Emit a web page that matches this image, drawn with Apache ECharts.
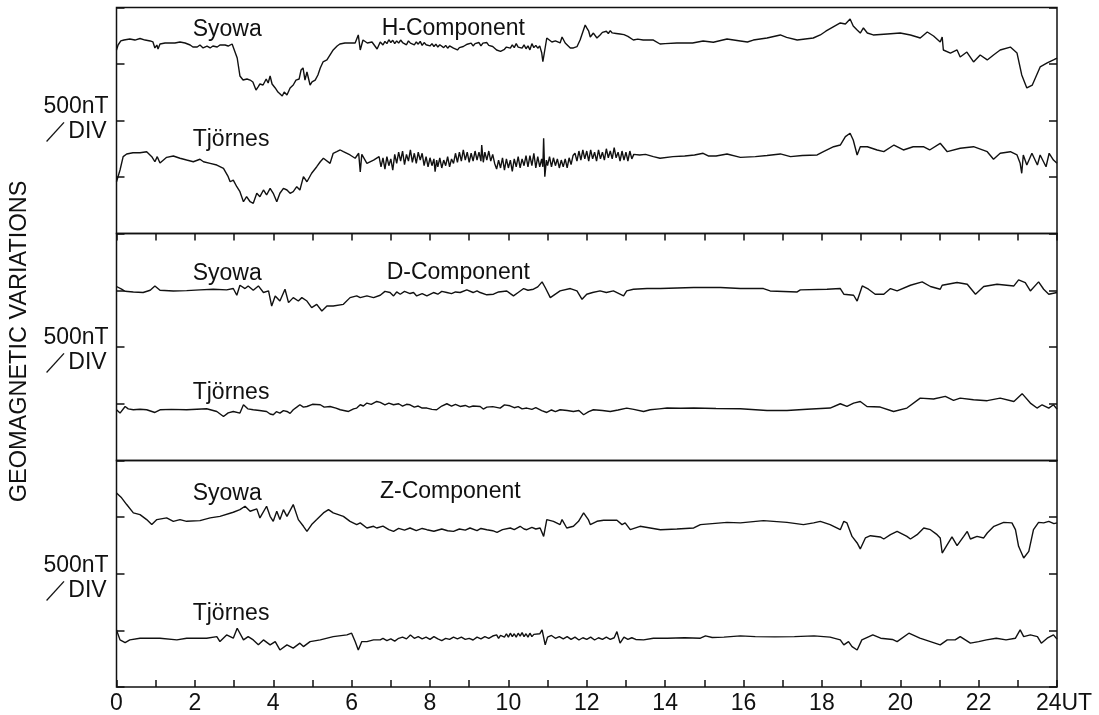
<!DOCTYPE html>
<html>
<head>
<meta charset="utf-8">
<script src="https://cdn.jsdelivr.net/npm/echarts@6/dist/echarts.min.js"></script>
<style>
  html, body { margin: 0; padding: 0; background: #fff; }
  #chart { width: 1099px; height: 715px; }
</style>
</head>
<body>
<div id="chart"></div>
<script>
// 地磁気変動 (nT), [UT hour, value]
const hSyowa = [[0,1624],[0.04,1668],[0.11,1704],[0.19,1712],[0.34,1721],[0.47,1712],[0.6,1726],[0.73,1712],[0.86,1704],[0.93,1695],[0.98,1642],[1.03,1668],[1.06,1633],[1.11,1677],[1.24,1686],[1.49,1686],[1.62,1695],[1.75,1686],[1.88,1668],[1.95,1650],[2.06,1650],[2.13,1668],[2.21,1642],[2.31,1659],[2.39,1642],[2.46,1659],[2.57,1650],[2.64,1668],[2.77,1668],[2.85,1659],[2.95,1677],[3.0,1668],[3.08,1553],[3.15,1394],[3.23,1358],[3.33,1367],[3.41,1358],[3.48,1341],[3.56,1270],[3.61,1296],[3.66,1323],[3.74,1314],[3.82,1367],[3.87,1332],[3.92,1394],[3.97,1323],[4.05,1288],[4.12,1252],[4.17,1235],[4.23,1217],[4.28,1252],[4.35,1226],[4.43,1288],[4.51,1314],[4.58,1358],[4.66,1367],[4.71,1447],[4.76,1465],[4.81,1358],[4.86,1429],[4.94,1314],[4.99,1341],[5.07,1358],[5.14,1403],[5.2,1465],[5.27,1518],[5.37,1536],[5.45,1580],[5.53,1624],[5.63,1659],[5.7,1677],[5.83,1686],[5.96,1686],[6.09,1686],[6.17,1757],[6.22,1624],[6.29,1712],[6.4,1686],[6.52,1695],[6.65,1633],[6.73,1695],
  [6.8,1668],[6.85,1700],[6.9,1680],[6.95,1715],[7.0,1690],[7.05,1710],[7.1,1680],[7.15,1705],[7.2,1685],[7.25,1712],[7.3,1690],[7.35,1700],[7.4,1670],[7.45,1705],[7.5,1685],[7.55,1700],[7.6,1670],[7.65,1695],[7.7,1675],[7.75,1700],[7.8,1665],[7.85,1690],[7.9,1670],[7.95,1685],[8.0,1660],[8.05,1680],[8.1,1655],[8.15,1675],[8.2,1650],[8.25,1670],[8.3,1660],[8.35,1645],[8.4,1665],[8.45,1640],[8.5,1660],[8.55,1645],[8.6,1640],[8.7,1624],[8.75,1645],[8.8,1635],[8.85,1655],[8.9,1645],[8.95,1675],[9.0,1660],[9.05,1685],[9.1,1660],[9.15,1680],[9.2,1665],[9.25,1690],[9.3,1660],[9.35,1685],[9.4,1670],[9.45,1690],[9.5,1665],[9.55,1675],[9.6,1655],[9.7,1624],[9.8,1612],[9.9,1630],[9.95,1650],[10.0,1665],[10.05,1640],[10.1,1670],[10.15,1645],[10.2,1680],[10.25,1650],[10.3,1665],[10.35,1640],[10.4,1670],[10.45,1635],[10.5,1660],[10.55,1625],[10.6,1680],[10.65,1645],[10.7,1665],[10.75,1640],[10.8,1660],[10.85,1600],[10.88,1520],[10.98,1730],[11.11,1695],[11.2,1704],[11.32,1686],[11.37,1739],[11.45,1686],[11.58,1642],[11.66,1642],[11.75,1653],[11.83,1712],[11.96,1845],[12.0,1819],[12.05,1790],[12.09,1739],[12.17,1774],[12.26,1730],[12.34,1757],[12.4,1780],[12.45,1765],[12.5,1790],[12.55,1770],[12.6,1795],[12.65,1775],[12.7,1790],[12.75,1770],[12.8,1785],[12.85,1765],[12.9,1780],[12.95,1760],[13.0,1770],[13.05,1745],[13.1,1739],[13.19,1712],[13.3,1720],[13.44,1712],[13.7,1712],[13.87,1677],[14.0,1680],[14.3,1686],[14.7,1686],[14.97,1704],[15.23,1692],[15.58,1721],[15.92,1704],[16.1,1695],[16.25,1712],[16.6,1730],[16.94,1757],[17.1,1736],[17.37,1712],[17.78,1730],[17.96,1757],[18.1,1790],[18.29,1828],[18.47,1863],[18.6,1854],[18.72,1898],[18.8,1836],[18.9,1800],[18.98,1774],[19.06,1819],[19.16,1774],[19.31,1757],[19.67,1766],[20.0,1774],[20.26,1757],[20.43,1739],[20.51,1730],[20.69,1783],[20.85,1748],[21.02,1695],[21.07,1739],[21.1,1624],[21.28,1597],[21.45,1624],[21.53,1562],[21.7,1606],[21.87,1518],[22.04,1580],[22.22,1536],[22.38,1580],[22.55,1624],[22.81,1650],[22.98,1597],[23.1,1403],[23.23,1288],[23.37,1314],[23.57,1474],[23.75,1509],[23.91,1536],[24,1553]];

const hTjornes = [[0,458],[0.09,562],[0.17,680],[0.26,704],[0.42,715],[0.6,715],[0.77,724],[0.9,680],[0.98,635],[1.04,680],[1.11,624],[1.28,674],[1.45,686],[1.62,666],[1.79,650],[1.96,635],[2.13,657],[2.22,635],[2.39,621],[2.56,606],[2.73,577],[2.85,503],[2.9,458],[2.98,473],[3.07,414],[3.15,370],[3.24,281],[3.32,326],[3.41,281],[3.49,267],[3.58,356],[3.66,326],[3.75,385],[3.83,341],[3.92,400],[4.0,356],[4.09,281],[4.17,356],[4.26,400],[4.35,385],[4.43,356],[4.51,370],[4.6,414],[4.68,385],[4.77,503],[4.86,458],[4.98,533],[5.11,591],[5.2,635],[5.28,666],[5.45,621],[5.53,710],[5.62,724],[5.71,739],[5.79,724],[5.96,695],[6.09,666],[6.18,710],[6.22,544],[6.26,700],[6.39,621],[6.56,650],[6.7,680],
  [6.75,590],[6.8,670],[6.85,570],[6.9,680],[6.95,600],[7.0,660],[7.05,560],[7.1,700],[7.15,620],[7.2,720],[7.25,640],[7.3,730],[7.35,610],[7.4,700],[7.45,640],[7.5,740],[7.55,630],[7.6,710],[7.65,620],[7.7,720],[7.75,650],[7.8,710],[7.85,600],[7.9,680],[7.95,590],[8.0,670],[8.05,600],[8.1,660],[8.13,547],[8.17,650],[8.2,590],[8.25,670],[8.3,580],[8.35,650],[8.4,600],[8.45,680],[8.5,590],[8.55,660],[8.6,620],[8.65,710],[8.7,630],[8.75,720],[8.8,640],[8.85,740],[8.9,650],[8.95,720],[9.0,630],[9.05,710],[9.1,640],[9.15,730],[9.2,650],[9.25,720],[9.3,640],[9.32,783],[9.36,630],[9.4,720],[9.45,650],[9.5,730],[9.55,640],[9.6,700],[9.65,620],[9.7,570],[9.75,650],[9.8,580],[9.85,670],[9.9,560],[9.95,660],[10.0,580],[10.05,650],[10.1,550],[10.15,660],[10.2,590],[10.25,680],[10.3,580],[10.35,660],[10.4,600],[10.45,690],[10.5,590],[10.55,690],[10.6,600],[10.65,710],[10.7,580],[10.75,680],[10.8,590],[10.85,660],[10.88,590],[10.9,843],[10.93,503],[10.97,650],[11.0,600],[11.05,680],[11.1,590],[11.15,670],[11.2,600],[11.25,660],[11.3,580],[11.35,650],[11.4,590],[11.45,660],[11.5,580],[11.55,670],[11.6,610],[11.65,690],[11.7,710],[11.75,640],[11.8,730],[11.85,650],[11.9,740],[11.95,660],[12.0,730],[12.05,640],[12.1,740],[12.15,660],[12.2,720],[12.25,640],[12.3,740],[12.35,660],[12.4,720],[12.45,650],[12.5,750],[12.55,670],[12.6,730],[12.65,660],[12.7,760],[12.75,670],[12.8,720],[12.85,640],[12.9,730],[12.95,650],[13.0,720],[13.05,640],[13.1,730],[13.15,660],[13.2,700],
  [13.35,695],[13.5,700],[13.7,680],[13.87,666],[14.2,680],[14.5,686],[14.75,695],[14.97,710],[15.1,686],[15.3,686],[15.58,704],[15.92,674],[16.3,680],[16.6,690],[16.94,704],[17.2,680],[17.5,690],[17.88,695],[18.04,724],[18.3,768],[18.47,783],[18.6,857],[18.72,887],[18.8,827],[18.9,695],[18.98,768],[19.16,768],[19.41,739],[19.58,724],[19.84,783],[20.08,739],[20.33,768],[20.59,768],[20.75,739],[21.02,798],[21.2,724],[21.53,754],[21.87,768],[22.22,724],[22.38,657],[22.55,710],[22.81,724],[22.98,695],[23.06,621],[23.1,533],[23.14,695],[23.23,606],[23.36,710],[23.5,606],[23.57,695],[23.72,591],[23.8,710],[23.91,650],[24,621]];

const dSyowa = [[0,1533],[0.05,1544],[0.13,1509],[0.22,1491],[0.43,1485],[0.68,1480],[0.86,1500],[0.98,1538],[1.11,1500],[1.45,1494],[1.79,1497],[2.13,1503],[2.47,1509],[2.81,1503],[2.98,1515],[3.07,1456],[3.15,1544],[3.28,1515],[3.36,1538],[3.49,1500],[3.62,1538],[3.75,1480],[3.88,1494],[3.96,1361],[4.05,1450],[4.17,1405],[4.3,1509],[4.39,1391],[4.51,1435],[4.64,1405],[4.73,1435],[4.86,1405],[4.98,1347],[5.11,1376],[5.24,1317],[5.37,1361],[5.53,1361],[5.79,1376],[5.96,1435],[6.13,1450],[6.22,1435],[6.39,1450],[6.56,1435],[6.73,1456],[6.85,1490],[6.98,1480],[7.07,1450],[7.15,1485],[7.24,1465],[7.35,1490],[7.49,1471],[7.58,1480],[7.66,1450],[7.8,1470],[7.92,1450],[8.09,1480],[8.2,1465],[8.3,1490],[8.43,1480],[8.55,1470],[8.65,1485],[8.77,1480],[8.94,1503],[9.1,1480],[9.2,1495],[9.28,1480],[9.45,1460],[9.62,1465],[9.75,1485],[9.96,1494],[10.05,1470],[10.13,1450],[10.25,1480],[10.39,1515],[10.5,1500],[10.64,1509],[10.75,1530],[10.86,1574],[10.94,1524],[11.07,1435],[11.32,1494],[11.58,1515],[11.75,1494],[11.88,1420],[12.0,1465],[12.15,1480],[12.34,1494],[12.5,1480],[12.68,1494],[12.94,1450],[13.02,1494],[13.19,1509],[13.54,1515],[13.88,1515],[14.73,1524],[15.41,1524],[15.92,1515],[16.51,1515],[16.68,1494],[17.37,1485],[17.45,1503],[18.13,1509],[18.47,1515],[18.56,1465],[18.81,1456],[18.9,1405],[19.03,1538],[19.19,1509],[19.36,1465],[19.58,1465],[19.75,1515],[19.92,1494],[20.26,1544],[20.56,1574],[20.77,1533],[21.02,1509],[21.07,1544],[21.45,1568],[21.71,1553],[21.92,1465],[22.13,1533],[22.47,1553],[22.9,1538],[23.02,1591],[23.19,1568],[23.32,1494],[23.53,1574],[23.66,1509],[23.79,1465],[24,1480]];

const dTjornes = [[0,447],[0.09,418],[0.22,476],[0.3,455],[0.43,447],[0.6,452],[0.77,447],[0.98,423],[1.11,447],[1.4,450],[1.79,447],[2.05,452],[2.3,456],[2.56,432],[2.73,388],[2.85,420],[2.98,432],[3.15,418],[3.24,491],[3.35,455],[3.49,447],[3.65,440],[3.83,432],[3.92,410],[4.0,403],[4.08,430],[4.17,418],[4.26,440],[4.35,432],[4.43,415],[4.51,447],[4.6,470],[4.68,491],[4.77,470],[4.86,476],[5.0,495],[5.2,491],[5.3,470],[5.45,476],[5.6,462],[5.71,447],[5.92,432],[6.05,455],[6.13,462],[6.22,491],[6.3,480],[6.39,506],[6.5,495],[6.64,520],[6.73,512],[6.85,490],[6.95,505],[7.07,491],[7.2,500],[7.3,480],[7.4,495],[7.49,491],[7.6,470],[7.7,480],[7.8,462],[7.92,462],[8.05,450],[8.17,447],[8.3,480],[8.43,500],[8.55,480],[8.65,495],[8.77,476],[8.9,485],[9.0,470],[9.1,480],[9.28,476],[9.36,453],[9.45,470],[9.6,475],[9.79,462],[9.9,490],[10.04,482],[10.15,465],[10.25,475],[10.35,455],[10.47,462],[10.6,450],[10.7,465],[10.85,440],[10.98,423],[11.1,445],[11.2,430],[11.32,447],[11.5,440],[11.66,432],[11.8,440],[11.92,403],[12.05,430],[12.17,447],[12.4,440],[12.6,432],[12.8,445],[13.02,462],[13.2,450],[13.45,432],[13.62,447],[13.85,455],[14.05,462],[14.4,460],[14.73,462],[15.3,458],[15.92,456],[16.6,441],[17.11,441],[17.62,451],[18.21,462],[18.47,500],[18.64,476],[18.81,506],[18.98,520],[19.15,476],[19.49,471],[19.83,432],[20.17,462],[20.51,550],[20.85,542],[21.15,565],[21.36,529],[21.53,550],[21.87,535],[22.22,527],[22.55,550],[22.9,520],[23.11,589],[23.32,506],[23.49,462],[23.62,491],[23.79,462],[23.91,491],[24,453]];

const zSyowa = [[0,1714],[0.13,1670],[0.26,1611],[0.43,1537],[0.6,1522],[0.77,1478],[0.9,1434],[1.03,1478],[1.28,1493],[1.45,1463],[1.62,1478],[1.79,1463],[2.13,1469],[2.39,1493],[2.64,1507],[2.98,1543],[3.15,1566],[3.28,1596],[3.41,1552],[3.58,1573],[3.66,1493],[3.83,1596],[3.92,1507],[4.0,1463],[4.09,1552],[4.17,1478],[4.26,1566],[4.35,1507],[4.51,1611],[4.64,1478],[4.77,1419],[4.86,1374],[4.98,1434],[5.11,1478],[5.28,1537],[5.41,1566],[5.53,1537],[5.79,1507],[5.96,1463],[6.13,1434],[6.22,1449],[6.39,1404],[6.56,1419],[6.64,1404],[6.8,1420],[6.95,1390],[7.07,1374],[7.2,1400],[7.35,1385],[7.49,1404],[7.65,1380],[7.8,1400],[7.92,1389],[8.1,1375],[8.3,1395],[8.45,1380],[8.6,1374],[8.75,1395],[8.9,1385],[9.02,1404],[9.2,1380],[9.3,1400],[9.45,1389],[9.6,1380],[9.71,1366],[9.85,1390],[10.05,1404],[10.15,1390],[10.3,1419],[10.4,1395],[10.47,1389],[10.6,1410],[10.7,1395],[10.81,1404],[10.9,1330],[10.98,1478],[11.15,1463],[11.32,1434],[11.37,1478],[11.49,1404],[11.66,1419],[11.79,1463],[11.92,1537],[12.04,1478],[12.09,1434],[12.26,1463],[12.43,1472],[12.77,1472],[12.9,1434],[12.98,1449],[13.11,1389],[13.36,1419],[13.62,1404],[13.88,1389],[14.3,1395],[14.73,1404],[14.9,1434],[15.58,1454],[15.92,1449],[16.51,1469],[17.11,1454],[17.53,1434],[17.79,1449],[17.96,1463],[18.21,1434],[18.47,1389],[18.56,1463],[18.64,1449],[18.77,1330],[18.9,1272],[18.98,1219],[19.11,1316],[19.24,1336],[19.49,1325],[19.58,1307],[19.75,1345],[19.92,1374],[20.17,1330],[20.26,1307],[20.43,1345],[20.6,1404],[20.77,1389],[20.94,1345],[21.02,1316],[21.07,1183],[21.2,1257],[21.32,1325],[21.45,1248],[21.62,1330],[21.71,1374],[21.79,1307],[21.96,1330],[22.13,1316],[22.22,1360],[22.39,1419],[22.64,1454],[22.85,1449],[22.94,1389],[23.02,1242],[23.15,1139],[23.28,1197],[23.4,1389],[23.53,1454],[23.66,1449],[23.79,1463],[23.92,1443],[24,1449]];

const zTjornes = [[0,504],[0.09,416],[0.22,392],[0.34,416],[0.6,431],[1.11,431],[1.54,416],[1.79,431],[2.3,431],[2.56,445],[2.64,401],[2.81,460],[2.98,431],[3.08,519],[3.24,416],[3.36,445],[3.49,416],[3.62,372],[3.75,416],[3.92,372],[4.05,401],[4.17,327],[4.35,372],[4.51,343],[4.68,387],[4.77,357],[4.94,401],[5.2,416],[5.53,445],[5.88,460],[6.0,475],[6.09,401],[6.17,327],[6.26,401],[6.39,401],[6.56,416],[6.73,416],
  [6.8,430],[6.9,410],[7.0,425],[7.1,405],[7.2,430],[7.3,440],[7.4,425],[7.5,460],[7.6,430],[7.7,445],[7.8,425],[7.9,440],[8.0,420],[8.1,445],[8.2,425],[8.3,410],[8.4,430],[8.5,420],[8.6,440],[8.7,425],[8.8,440],[8.9,420],[9.0,430],[9.1,415],[9.2,440],[9.3,425],[9.4,445],[9.5,430],[9.6,450],[9.7,460],[9.75,430],[9.8,455],[9.9,440],[9.95,470],[10.0,440],[10.05,475],[10.1,445],[10.15,470],[10.2,440],[10.25,475],[10.3,450],[10.35,480],[10.4,445],[10.45,470],[10.5,440],[10.55,475],[10.6,445],[10.65,465],[10.7,450],[10.8,470],[10.86,504],[10.94,372],[11.0,440],[11.1,455],[11.2,430],[11.3,445],[11.4,425],[11.5,445],[11.6,420],[11.7,440],[11.8,415],[11.9,435],[12.0,420],[12.1,440],[12.2,415],[12.3,435],[12.4,420],[12.5,440],[12.6,420],[12.7,435],[12.77,489],[12.85,387],[12.95,440],[13.05,420],[13.15,435],[13.25,420],
  [13.45,416],[13.7,431],[14.05,431],[14.5,435],[14.9,431],[15.03,451],[15.2,437],[15.5,440],[15.92,451],[16.3,445],[16.8,443],[17.3,445],[17.8,451],[18.21,440],[18.47,416],[18.56,372],[18.68,401],[18.77,357],[18.9,327],[19.02,416],[19.3,460],[19.5,431],[19.8,420],[19.92,401],[20.22,475],[20.5,431],[20.77,401],[21.02,372],[21.2,416],[21.4,416],[21.53,445],[21.79,387],[22.0,401],[22.2,416],[22.45,431],[22.7,416],[22.94,431],[23.06,504],[23.15,445],[23.32,460],[23.5,445],[23.6,387],[23.75,431],[23.91,460],[24,423]];

const components = ['H-Component', 'D-Component', 'Z-Component'];
const stations = ['Syowa', 'Tjörnes'];
const panelData = [[hSyowa, hTjornes], [dSyowa, dTjornes], [zSyowa, zTjornes]];

const FONT = '"Liberation Sans", Arial, sans-serif';
const INK = '#111';

// パネル位置
const panels = [
  { top: 7.5, height: 226 },
  { top: 233.5, height: 227 },
  { top: 460.5, height: 226.5 },
];
const labelPos = [
  { syowa: 30, tjornes: 140, comp: [381.7, 28.3], scale: 119 },
  { syowa: 273.3, tjornes: 392.5, comp: [386.7, 272.5], scale: 350 },
  { syowa: 493.3, tjornes: 614, comp: [380, 491.7], scale: 578 },
];

const grid = panels.map(p => ({
  left: 116.5, right: 42, top: p.top, height: p.height,
  show: true, borderColor: INK, borderWidth: 1.5, backgroundColor: 'transparent',
}));

const xAxis = panels.map((p, i) => ({
  type: 'value', gridIndex: i, min: 0, max: 24, interval: 1,
  position: i === 0 ? 'top' : 'bottom',
  show: i !== 1,
  axisLine: { show: false },
  axisTick: { show: true, inside: true, length: 7, lineStyle: { color: INK, width: 1.5 } },
  splitLine: { show: false },
  axisLabel: {
    show: i === 2, margin: 5, color: INK, fontSize: 23, fontFamily: FONT,
    formatter: v => (v === 24 ? '{u|24UT}' : (v % 2 === 0 ? String(v) : '')),
    rich: { u: { fontSize: 23, fontFamily: FONT, color: INK, padding: [0, 0, 0, 14] } },
  },
}));

const yAxis = [];
panels.forEach((p, i) => {
  ['left', 'right'].forEach(pos => {
    yAxis.push({
      type: 'value', gridIndex: i, min: 0, max: 2000, interval: 500, position: pos,
      axisLine: { show: false },
      axisTick: { show: true, inside: true, length: 8, lineStyle: { color: INK, width: 1.5 } },
      axisLabel: { show: false },
      splitLine: { show: false },
    });
  });
});

const series = [];
panelData.forEach((pair, i) => {
  pair.forEach((data, j) => {
    series.push({
      name: components[i] + ' ' + stations[j],
      type: 'line', xAxisIndex: i, yAxisIndex: i * 2, data,
      showSymbol: false, symbol: 'none', animation: false,
      lineStyle: { color: INK, width: 1.4 },
    });
  });
});

const txt = (text, x, y, extra) => Object.assign({
  type: 'text', x, y, silent: true,
  style: { text, fill: INK, fontSize: 23, fontFamily: FONT, align: 'left', verticalAlign: 'middle' },
}, extra || {});

const graphic = [];
labelPos.forEach((lp, i) => {
  graphic.push(txt(stations[0], 192.7, lp.syowa));
  graphic.push(txt(stations[1], 192.7, lp.tjornes));
  graphic.push(txt(components[i], lp.comp[0], lp.comp[1]));
  const s = txt('500nT\n／DIV', 76, lp.scale);
  s.style.align = 'center';
  s.style.lineHeight = 25.5;
  graphic.push(s);
});
const yTitle = txt('GEOMAGNETIC VARIATIONS', 20, 341.5, { rotation: Math.PI / 2 });
yTitle.style.align = 'center';
yTitle.style.fontSize = 23.5;
graphic.push(yTitle);

const chart = echarts.init(document.getElementById('chart'));
chart.setOption({
  animation: false,
  backgroundColor: '#fff',
  grid, xAxis, yAxis, series, graphic,
});
</script>
</body>
</html>
